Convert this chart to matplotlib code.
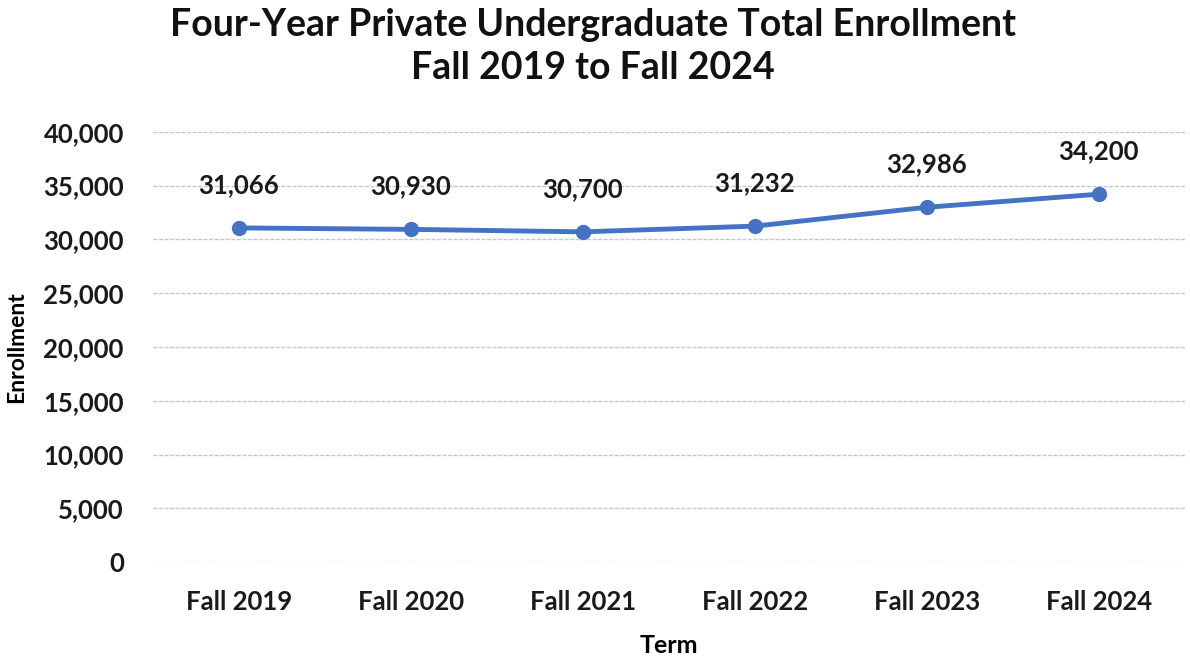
import numpy as np
import matplotlib.pyplot as plt

terms = ["Fall 2019", "Fall 2020", "Fall 2021", "Fall 2022", "Fall 2023", "Fall 2024"]
enrollment = [31066, 30930, 30700, 31232, 32986, 34200]

plt.rcParams['font.family'] = ['Lato', 'DejaVu Sans']
plt.rcParams['font.weight'] = 'bold'

fig = plt.figure(figsize=(11.9, 6.59), dpi=100)
ax = fig.add_axes([0.1286, 0.147, 0.867, 0.653])

x = np.arange(len(terms))
ax.plot(x, enrollment, color='#4472C4', lw=3.5, marker='o', ms=10, zorder=3)
for xi, v in zip(x, enrollment):
    ax.annotate(f"{v:,}", (xi, v), xytext=(0, 31), textcoords='offset points',
                ha='center', va='center', fontsize=18.5, fontweight='bold', color='#1a1a1a')

ax.set_ylim(0, 40000)
ax.set_xlim(-0.5, len(terms) - 0.5)
ax.set_yticks(np.arange(0, 40001, 5000))
ax.set_yticklabels([f"{t:,}" for t in range(0, 40001, 5000)])
ax.set_xticks(x)
ax.set_xticklabels(terms)
ax.tick_params(axis='both', length=0, labelsize=18.5, colors='#1a1a1a')
ax.tick_params(axis='x', pad=20)
ax.tick_params(axis='y', pad=21)
for lab in ax.get_xticklabels() + ax.get_yticklabels():
    lab.set_fontweight('bold')

ax.grid(axis='y', color='#c8c8c8', ls=(0, (3, 1)), lw=1)
ax.set_axisbelow(True)
for s in ax.spines.values():
    s.set_visible(False)

ax.set_ylabel("Enrollment", fontsize=16.5, fontweight='bold', va='center')
ax.yaxis.set_label_coords(-0.132, 0.5)
ax.set_xlabel("Term", fontsize=18, fontweight='bold', va='center')
ax.xaxis.set_label_coords(0.5, -0.193)

fig.text(0.498, 0.929, "Four-Year Private Undergraduate Total Enrollment\nFall 2019 to Fall 2024",
         ha='center', va='center', fontsize=27, fontweight='bold', linespacing=1.33, color='#111111')

fig.savefig('out.png', dpi=100)
